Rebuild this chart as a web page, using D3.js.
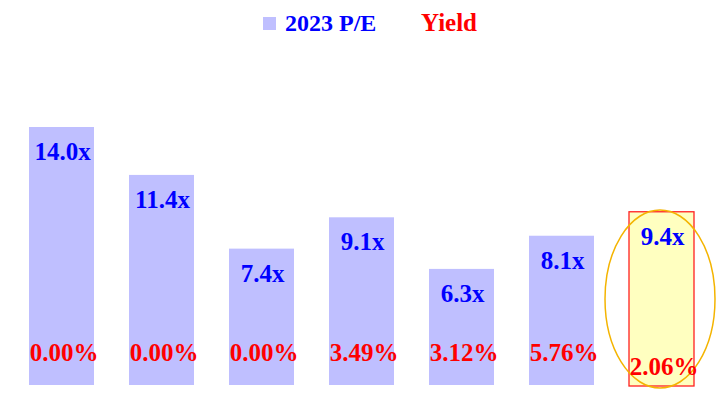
<!DOCTYPE html>
<html><head><meta charset="utf-8">
<script src="https://cdn.jsdelivr.net/npm/d3@7"></script>
<style>body{margin:0;background:#fff}svg{display:block}</style>
</head><body>
<script>
const categories = ["A","B","C","D","E","F","G"];
const pe = [14.0, 11.4, 7.4, 9.1, 6.3, 8.1, 9.4];
const yieldPct = [0.00, 0.00, 0.00, 3.49, 3.12, 5.76, 2.06];
const highlightIndex = 6;

const W = 728, H = 400;
const svg = d3.select("body").append("svg").attr("width", W).attr("height", H);
const font = "'Liberation Serif', 'Times New Roman', serif";

const x = d3.scaleBand().domain(categories).range([11.5, 711.5]).paddingInner(0.35).paddingOuter(0.175);
const y = d3.scaleLinear().domain([0, 14]).range([385, 127]);

const hc = categories[highlightIndex];
svg.append("rect")
  .attr("x", x(hc)).attr("y", y(pe[highlightIndex]))
  .attr("width", x.bandwidth()).attr("height", y(0) - y(pe[highlightIndex]) + 1)
  .attr("fill", "#ffffc0").attr("stroke", "#ff2020").attr("stroke-width", 1.3);

svg.selectAll("rect.bar").data(categories.filter((c,i)=>i!==highlightIndex)).join("rect")
  .attr("class","bar")
  .attr("x", c => x(c)).attr("y", c => y(pe[categories.indexOf(c)]))
  .attr("width", x.bandwidth())
  .attr("height", c => y(0) - y(pe[categories.indexOf(c)]))
  .attr("fill", "#bfbfff");

svg.append("ellipse")
  .attr("cx", x(hc) + x.bandwidth()/2 - 1.5)
  .attr("cy", 299).attr("rx", 55).attr("ry", 89)
  .attr("fill", "none").attr("stroke", "#f4b400").attr("stroke-width", 1.5);

svg.selectAll("text.pe").data(categories).join("text")
  .attr("class","pe")
  .attr("x", c => x(c) + x.bandwidth()/2 + 1)
  .attr("y", c => y(pe[categories.indexOf(c)]) + 33)
  .attr("text-anchor","middle")
  .attr("font-family", font).attr("font-weight","bold").attr("font-size", 25)
  .attr("fill","#0000ff")
  .text(c => pe[categories.indexOf(c)].toFixed(1) + "x");

svg.selectAll("text.yl").data(categories).join("text")
  .attr("class","yl")
  .attr("x", c => x(c) + x.bandwidth()/2 + 2.5)
  .attr("y", (c,i) => i === highlightIndex ? 375 : 361)
  .attr("text-anchor","middle")
  .attr("font-family", font).attr("font-weight","bold").attr("font-size", 25)
  .attr("fill","#ff0000")
  .text(c => yieldPct[categories.indexOf(c)].toFixed(2) + "%");

const lg = svg.append("g");
lg.append("rect").attr("x", 263).attr("y", 17).attr("width", 13).attr("height", 13).attr("fill", "#bfbfff");
lg.append("text").attr("x", 285).attr("y", 31)
  .attr("font-family", font).attr("font-weight","bold").attr("font-size", 24)
  .attr("fill","#0000ff").text("2023 P/E");
lg.append("text").attr("x", 421).attr("y", 31)
  .attr("font-family", font).attr("font-weight","bold").attr("font-size", 25)
  .attr("fill","#ff0000").text("Yield");
</script>
</body></html>
